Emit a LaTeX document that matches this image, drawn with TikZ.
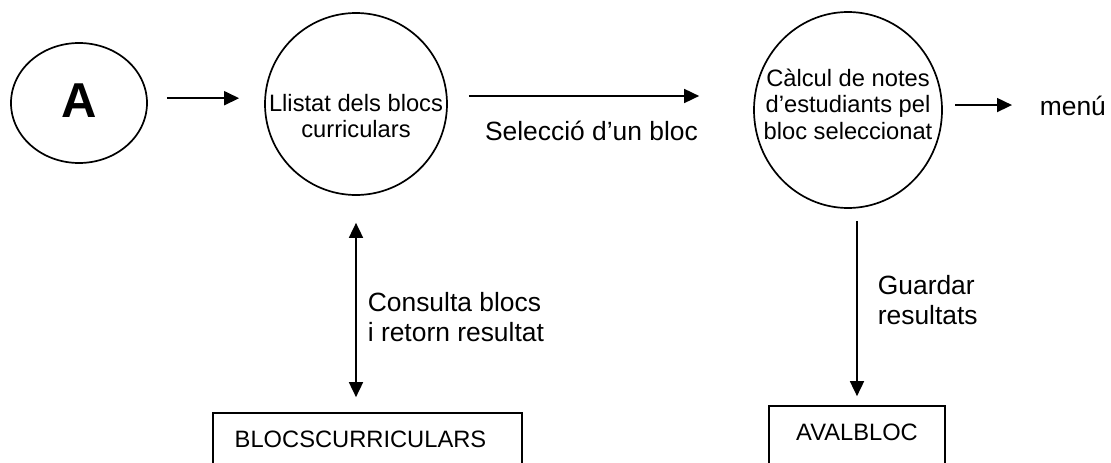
\documentclass[tikz,border=0pt]{standalone}
\usepackage{fontspec}
\setmainfont{Liberation Sans}
\usetikzlibrary{arrows.meta}
\usetikzlibrary{shapes.geometric}

\newcommand{\proctxt}{\fontsize{23.7}{26.5}\selectfont}
\newcommand{\flowtxt}{\fontsize{26.4}{30.5}\selectfont}

\tikzset{
    proc/.style={draw, ellipse, inner sep=0pt},
    store/.style={draw, rectangle, inner sep=0pt, minimum height=70pt,
        text height=17pt, text depth=19pt, font=\proctxt},
    lbl/.style={font=\flowtxt, align=left, inner sep=0pt},
}

\begin{document}
\begin{tikzpicture}[x=1pt, y=-1pt, line width=1.7pt,
    >={Triangle[length=15pt,width=14pt]}]
    \useasboundingbox (0, 0) rectangle (1111, 463);
    \path (79, 103) node [proc, minimum width=136pt, minimum height=120pt, text depth=5pt,
        font=\fontsize{49}{49}\selectfont\bfseries] (a) {A};
    \path (356, 104) node [proc, minimum size=182pt,
        label={[font=\proctxt, align=center, yshift=-12pt]center:Llistat dels blocs\\curriculars}] (ll) {};
    \draw [->, shorten <=19.3pt, shorten >=25pt] (a.4) -- (a.4 -| ll.west);
    \path (848, 110) node [proc, minimum width=188pt, minimum height=196pt,
        label={[font=\proctxt, align=center, yshift=6pt]center:Càlcul de notes\\d’estudiants pel\\bloc seleccionat}] (ca) {};
    \draw [->, shorten <=21.3pt, shorten >=54pt] (ll.5) -- (ll.5 -| ca.west)
        node[midway, lbl, anchor=base, xshift=-8.9pt, yshift=-45pt] {Selecció d’un bloc};
    \path (1039, 115) node [lbl, anchor=base west] (mn) {menú};
    \draw [->, shorten <=12.3pt, shorten >=27pt] (ca.3) -- (ca.3 -| mn.west);
    \path (367.5, 448) node [store, minimum width=309pt] (bc) {BLOCSCURRICULARS\hspace*{14pt}};
    \draw [<->, shorten <=27pt, shorten >=15pt] (ll.south) -- (ll.south |- bc.north)
        node[midway, lbl, right=11pt, yshift=-13pt] {Consulta blocs\\i retorn resultat};
    \path (857, 441) node [store, minimum width=176pt] (av) {AVALBLOC};
    \draw [->, shorten <=12pt, shorten >=9pt] (av.north |- ca.south) -- (av.north)
        node[midway, lbl, right=20pt, yshift=7pt] {Guardar\\resultats};
\end{tikzpicture}
\end{document}
